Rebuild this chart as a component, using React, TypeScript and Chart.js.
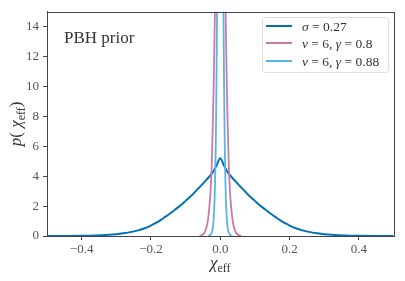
import React, { useEffect, useRef } from "react";
import { Chart, registerables } from "chart.js";

Chart.register(...registerables);

// sigma = 0.27 curve
const blueX = [-0.5, -0.45, -0.4, -0.36, -0.33, -0.3, -0.28, -0.26, -0.24, -0.22, -0.2, -0.19, -0.18, -0.17, -0.16, -0.15, -0.14, -0.13, -0.12, -0.11, -0.1, -0.09, -0.08, -0.07, -0.06, -0.05, -0.04, -0.03, -0.02, -0.01, 0,
  0.01, 0.02, 0.03, 0.04, 0.05, 0.06, 0.07, 0.08, 0.09, 0.1, 0.11, 0.12, 0.13, 0.14, 0.15, 0.16, 0.17, 0.18, 0.19, 0.2, 0.22, 0.24, 0.26, 0.28, 0.3, 0.33, 0.36, 0.4, 0.45, 0.5];
const blueY = [0.003, 0.008, 0.02, 0.04, 0.07, 0.12, 0.18, 0.26, 0.36, 0.5, 0.7, 0.82, 0.95, 1.1, 1.26, 1.42, 1.59, 1.77, 1.95, 2.14, 2.35, 2.56, 2.78, 3.02, 3.26, 3.5, 3.75, 4.02, 4.32, 4.75, 5.2,
  4.75, 4.32, 4.02, 3.75, 3.5, 3.26, 3.02, 2.78, 2.56, 2.35, 2.14, 1.95, 1.77, 1.59, 1.42, 1.26, 1.1, 0.95, 0.82, 0.7, 0.5, 0.36, 0.26, 0.18, 0.12, 0.07, 0.04, 0.02, 0.008, 0.003];

// nu = 6, gamma = 0.8 curve
const pinkX = [-0.06, -0.055, -0.05, -0.045, -0.04, -0.036, -0.032, -0.028, -0.025, -0.022, -0.019, -0.0154, -0.008, 0,
  0.008, 0.0154, 0.019, 0.022, 0.025, 0.028, 0.032, 0.036, 0.04, 0.045, 0.05, 0.055, 0.06];
const pinkY = [0.01, 0.04, 0.1, 0.25, 0.55, 1.0, 1.8, 3.0, 4.5, 7, 10, 15, 22, 30,
  22, 15, 10, 7, 4.5, 3.0, 1.8, 1.0, 0.55, 0.25, 0.1, 0.04, 0.01];

// nu = 6, gamma = 0.88 curve
const lightX = [-0.035, -0.03, -0.025, -0.021, -0.018, -0.015, -0.013, -0.011, -0.0093, -0.005, 0,
  0.005, 0.0093, 0.011, 0.013, 0.015, 0.018, 0.021, 0.025, 0.03, 0.035];
const lightY = [0.01, 0.05, 0.2, 0.6, 1.5, 3.5, 6, 10, 15, 25, 40,
  25, 15, 10, 6, 3.5, 1.5, 0.6, 0.2, 0.05, 0.01];

const xTicks = [-0.4, -0.2, 0.0, 0.2, 0.4];
const yTicks = [0, 2, 4, 6, 8, 10, 12, 14];

const COLORS = ["#0072B2", "#CC79A7", "#56B4E9"];
const SERIF = "'Liberation Serif', 'DejaVu Serif', serif";

type Part = { t: string; it?: boolean; sub?: boolean };

function drawMath(ctx: CanvasRenderingContext2D, parts: Part[], x: number, y: number, size: number, align: "left" | "center") {
  const font = (p: Part) => `${p.it ? "italic " : ""}${p.sub ? Math.round(size * 0.7) : size}px ${SERIF}`;
  let total = 0;
  for (const p of parts) {
    ctx.font = font(p);
    total += ctx.measureText(p.t).width;
  }
  let cx = align === "center" ? x - total / 2 : x;
  ctx.textAlign = "left";
  ctx.textBaseline = "alphabetic";
  for (const p of parts) {
    ctx.font = font(p);
    ctx.fillText(p.t, cx, p.sub ? y + size * 0.25 : y);
    cx += ctx.measureText(p.t).width;
  }
}

const decor = {
  id: "decor",
  afterDraw(chart: any) {
    const ctx = chart.ctx as CanvasRenderingContext2D;
    const a = chart.chartArea;
    ctx.save();
    // frame
    ctx.strokeStyle = "#444";
    ctx.lineWidth = 1;
    ctx.strokeRect(Math.round(a.left) + 0.5, Math.round(a.top) + 0.5, Math.round(a.right - a.left), Math.round(a.bottom - a.top));
    // annotation
    ctx.fillStyle = "#333";
    ctx.font = `17px ${SERIF}`;
    ctx.textAlign = "left";
    ctx.textBaseline = "alphabetic";
    ctx.fillText("PBH prior", 64, 43);
    // legend
    const lx = 262, ly = 17, lw = 126, lh = 55;
    ctx.fillStyle = "rgba(255,255,255,0.85)";
    ctx.strokeStyle = "#ddd";
    ctx.beginPath();
    (ctx as any).roundRect(lx + 0.5, ly + 0.5, lw, lh, 3);
    ctx.fill();
    ctx.stroke();
    const rows: Part[][] = [
      [{ t: "σ", it: true }, { t: " = 0.27" }],
      [{ t: "ν", it: true }, { t: " = 6, " }, { t: "γ", it: true }, { t: " = 0.8" }],
      [{ t: "ν", it: true }, { t: " = 6, " }, { t: "γ", it: true }, { t: " = 0.88" }],
    ];
    const rowY = [26, 43, 61];
    rows.forEach((r, i) => {
      ctx.strokeStyle = COLORS[i];
      ctx.lineWidth = 2;
      ctx.beginPath();
      ctx.moveTo(266, rowY[i]);
      ctx.lineTo(292, rowY[i]);
      ctx.stroke();
      ctx.fillStyle = "#333";
      drawMath(ctx, r, 302, rowY[i] + 4.5, 13.5, "left");
    });
    // x title
    ctx.fillStyle = "#333";
    drawMath(ctx, [{ t: "χ", it: true }, { t: "eff", sub: true }], (a.left + a.right) / 2, 268, 17, "center");
    // y title
    ctx.save();
    ctx.translate(21, (a.top + a.bottom) / 2);
    ctx.rotate(-Math.PI / 2);
    drawMath(ctx, [{ t: "p", it: true }, { t: "(" }, { t: " χ", it: true }, { t: "eff", sub: true }, { t: ")" }], 0, 0, 17, "center");
    ctx.restore();
    ctx.restore();
  },
};

export default function App() {
  const ref = useRef<HTMLCanvasElement>(null);
  useEffect(() => {
    document.body.style.margin = "0";
    const mk = (xs: number[], ys: number[]) => xs.map((x, i) => ({ x, y: ys[i] }));
    const chart = new Chart(ref.current!, {
      type: "line",
      data: {
        datasets: [
          { data: mk(blueX, blueY), borderColor: COLORS[0], borderWidth: 2, pointRadius: 0, cubicInterpolationMode: "monotone", order: 3 },
          { data: mk(pinkX, pinkY), borderColor: COLORS[1], borderWidth: 1.8, pointRadius: 0, cubicInterpolationMode: "monotone", order: 2 },
          { data: mk(lightX, lightY), borderColor: COLORS[2], borderWidth: 1.8, pointRadius: 0, cubicInterpolationMode: "monotone", order: 1 },
        ],
      },
      options: {
        animation: false,
        responsive: true,
        maintainAspectRatio: false,
        layout: { padding: { left: 0, top: 11, right: 11.5, bottom: 0 } },
        plugins: { legend: { display: false }, tooltip: { enabled: false } },
        scales: {
          x: {
            type: "linear",
            min: -0.5,
            max: 0.5,
            afterBuildTicks: (s: any) => { s.ticks = xTicks.map((v) => ({ value: v })); },
            afterFit: (s: any) => { s.height = 45; },
            grid: { drawOnChartArea: false, drawTicks: true, tickLength: 4, color: "#444" },
            border: { display: true, color: "#444" },
            ticks: {
              color: "#555",
              padding: 2,
              maxRotation: 0,
              font: { family: SERIF, size: 13 },
              callback: (v: any) => Number(v).toFixed(1).replace("-", "−"),
            },
          },
          y: {
            type: "linear",
            min: 0,
            max: 15,
            afterBuildTicks: (s: any) => { s.ticks = yTicks.map((v) => ({ value: v })); },
            afterFit: (s: any) => { s.width = 47; },
            grid: { drawOnChartArea: false, drawTicks: true, tickLength: 4, color: "#444" },
            border: { display: true, color: "#444" },
            ticks: {
              color: "#555",
              padding: 4,
              font: { family: SERIF, size: 13 },
              callback: (v: any) => String(v),
            },
          },
        },
      },
      plugins: [decor],
    });
    return () => chart.destroy();
  }, []);
  return (
    <div style={{ width: 405, height: 281, position: "relative" }}>
      <canvas ref={ref} />
    </div>
  );
}
